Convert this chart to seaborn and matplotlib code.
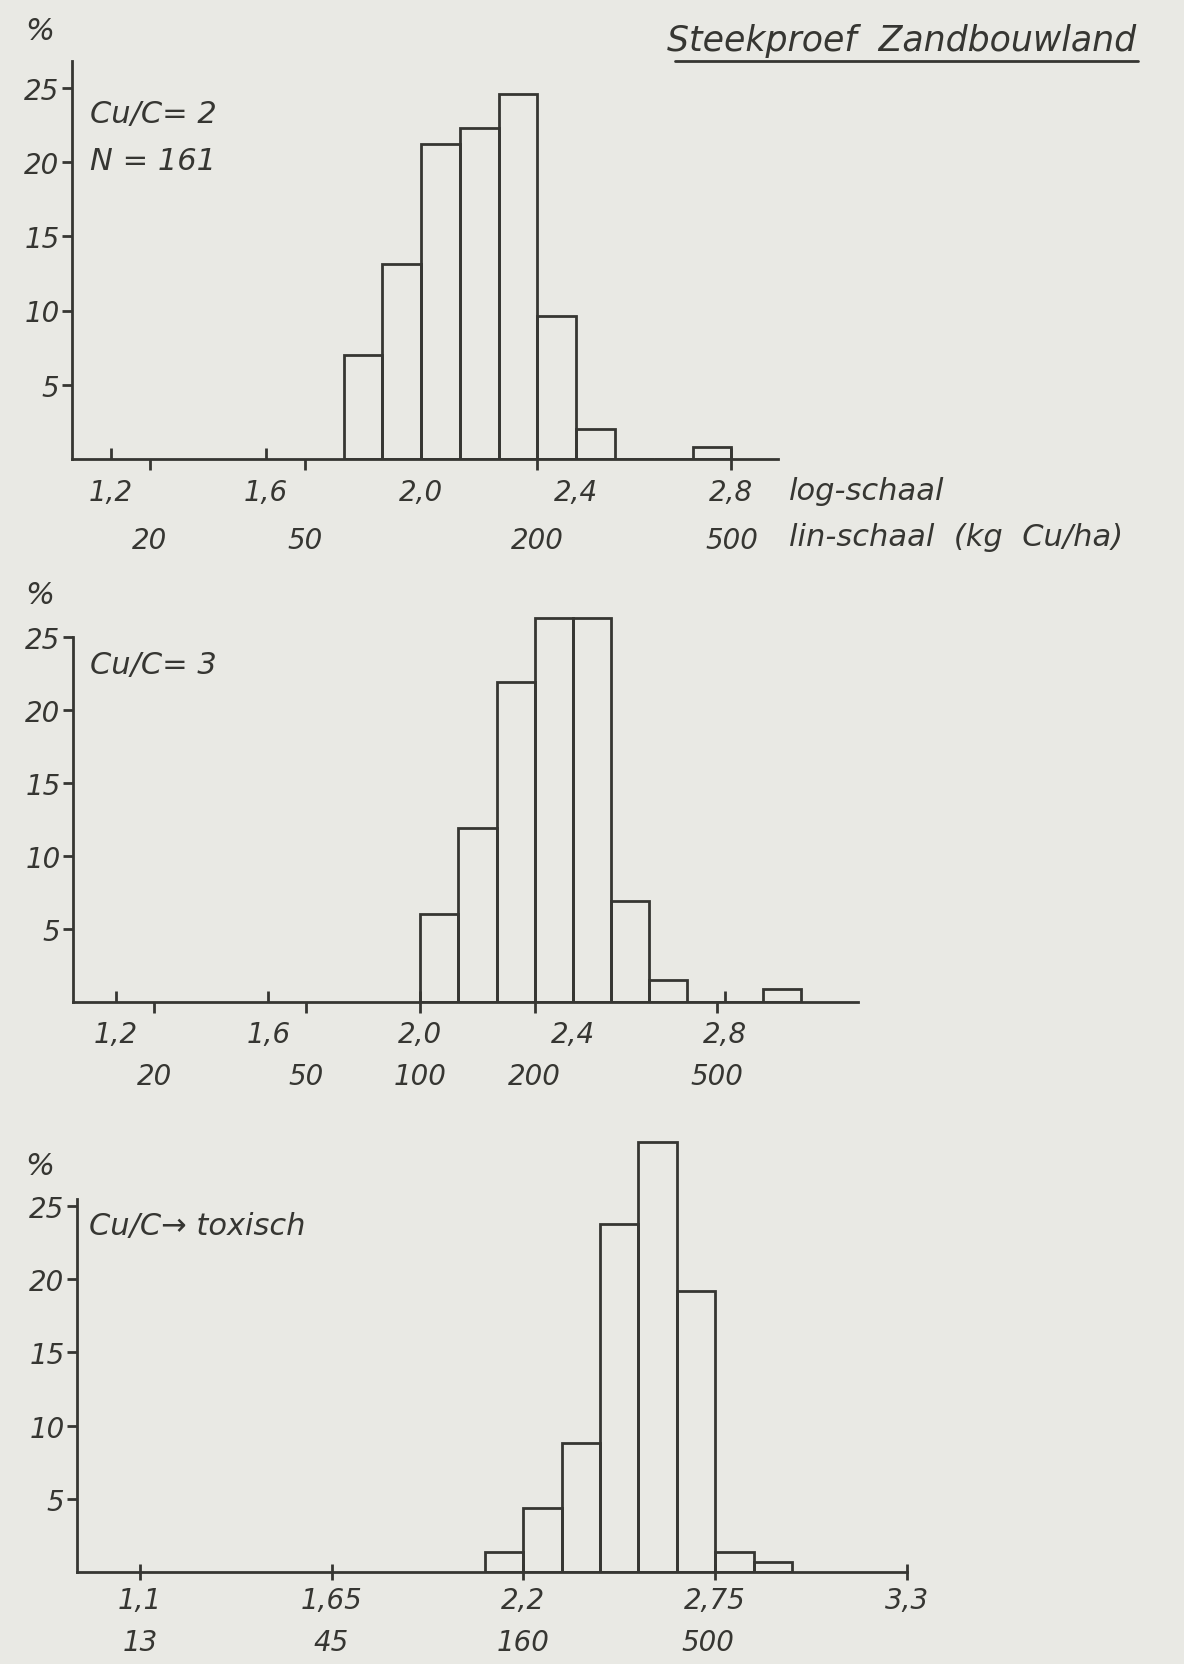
import numpy as np
import seaborn as sns
import matplotlib.pyplot as plt
from matplotlib.lines import Line2D

# ---- data: percentage of samples per class of log10(kg Cu/ha) ----
edges_c2 = [1.8, 1.9, 2.0, 2.1, 2.2, 2.3, 2.4, 2.5, 2.6, 2.7, 2.8]
pct_c2 = [7.0, 13.1, 21.2, 22.3, 24.6, 9.6, 2.0, 0.0, 0.0, 0.8]

edges_c3 = [2.0, 2.1, 2.2, 2.3, 2.4, 2.5, 2.6, 2.7, 2.8, 2.9, 3.0]
pct_c3 = [6.0, 11.9, 21.9, 26.3, 26.3, 6.9, 1.5, 0.0, 0.0, 0.9]

edges_tox = [2.09, 2.20, 2.31, 2.42, 2.53, 2.64, 2.75, 2.86, 2.97]
pct_tox = [1.4, 4.4, 8.8, 23.8, 29.4, 19.2, 1.4, 0.7]

# axis tick positions and labels
log_ticks_12 = [1.2, 1.6, 2.0, 2.4, 2.8]
log_labels_12 = ["1,2", "1,6", "2,0", "2,4", "2,8"]
lin_pos_1 = [1.30, 1.70, 2.30, 2.80]
lin_labels_1 = ["20", "50", "200", "500"]
lin_pos_2 = [1.30, 1.70, 2.00, 2.30, 2.78]
lin_labels_2 = ["20", "50", "100", "200", "500"]
log_ticks_3 = [1.1, 1.65, 2.2, 2.75, 3.3]
log_labels_3 = ["1,1", "1,65", "2,2", "2,75", "3,3"]
lin_pos_3 = [1.1, 1.65, 2.2, 2.73]
lin_labels_3 = ["13", "45", "160", "500"]
y_ticks = [5, 10, 15, 20, 25]

INK = "#363632"
PAPER = "#e9e9e4"
W, H = 1184, 1665
LW = 2.0
FS = 20      # tick labels
FS_TXT = 22  # lettering inside and beside the panels

sns.set_theme(style="white")
plt.rcParams["font.family"] = ["DejaVu Sans"]
plt.rcParams["font.style"] = "italic"
plt.rcParams["text.color"] = INK
plt.rcParams["xtick.color"] = INK
plt.rcParams["ytick.color"] = INK

fig = plt.figure(figsize=(W / 100, H / 100), dpi=100, facecolor=PAPER)


def make_axes(left_px, right_px, base_px, px_per_unit, ytop):
    top_px = base_px - ytop * px_per_unit
    ax = fig.add_axes([left_px / W, 1 - base_px / H,
                       (right_px - left_px) / W, (base_px - top_px) / H])
    ax.set_facecolor("none")
    ax.set_ylim(0, ytop)
    return ax


def draw_hist(ax, edges, pct):
    centers = [(a + b) / 2 for a, b in zip(edges[:-1], edges[1:])]
    sns.histplot(x=centers, weights=pct, bins=edges, fill=False,
                 color=INK, linewidth=LW, ax=ax)
    ax.set(xlabel="", ylabel="")


def style_axes(ax, ybound):
    for s in ["top", "right"]:
        ax.spines[s].set_visible(False)
    for s in ["left", "bottom"]:
        ax.spines[s].set_color(INK)
        ax.spines[s].set_linewidth(LW)
    ax.spines["left"].set_bounds(0, ybound)
    ax.set_yticks(y_ticks)
    ax.set_yticklabels([str(v) for v in y_ticks])
    ax.tick_params(axis="y", direction="out", length=7, width=LW,
                   pad=2, labelsize=FS, left=True)
    ax.xaxis.remove_overlapping_locs = False


# ---- panel 1: Cu/C = 2 ----
ax1 = make_axes(72, 778, 460, 14.85, 26.8)
ax1.set_xlim(1.1, 2.92)
draw_hist(ax1, edges_c2, pct_c2)
style_axes(ax1, 26.8)
ax1.set_xticks(log_ticks_12, log_labels_12)
ax1.set_xticks(lin_pos_1, lin_labels_1, minor=True)
ax1.tick_params(axis="x", which="major", direction="in", length=8,
                width=LW, pad=14, labelsize=FS, bottom=True)
ax1.tick_params(axis="x", which="minor", direction="out", length=8,
                width=LW, pad=40, labelsize=FS, bottom=True)
ax1.text(0.025, 0.868, "Cu/C= 2", transform=ax1.transAxes, fontsize=FS_TXT,
         va="center", ha="left")
ax1.text(0.025, 0.75, "N = 161", transform=ax1.transAxes, fontsize=FS_TXT,
         va="center", ha="left")

# ---- panel 2: Cu/C = 3 ----
ax2 = make_axes(73, 858, 1003, 14.6, 27)
ax2.set_xlim(1.087, 3.15)
draw_hist(ax2, edges_c3, pct_c3)
style_axes(ax2, 25)
ax2.set_xticks(log_ticks_12, log_labels_12)
ax2.set_xticks(lin_pos_2, lin_labels_2, minor=True)
ax2.tick_params(axis="x", which="major", direction="in", length=8,
                width=LW, pad=13, labelsize=FS, bottom=True)
ax2.tick_params(axis="x", which="minor", direction="out", length=8,
                width=LW, pad=35, labelsize=FS, bottom=True)
ax2.text(0.022, 0.855, "Cu/C= 3", transform=ax2.transAxes, fontsize=FS_TXT,
         va="center", ha="left")

# ---- panel 3: Cu/C -> toxisch ----
ax3 = make_axes(77, 907, 1573, 14.64, 30)
ax3.set_xlim(0.92, 3.3)
draw_hist(ax3, edges_tox, pct_tox)
style_axes(ax3, 25.5)
ax3.set_xticks(log_ticks_3, log_labels_3)
ax3.set_xticks(lin_pos_3, lin_labels_3, minor=True)
ax3.tick_params(axis="x", which="major", direction="inout", length=12,
                width=LW, pad=4, labelsize=FS, bottom=True)
ax3.tick_params(axis="x", which="minor", direction="out", length=0,
                width=0, pad=40, labelsize=FS, bottom=True)
ax3.text(0.015, 0.79, "Cu/C\u2192 toxisch", transform=ax3.transAxes,
         fontsize=FS_TXT, va="center", ha="left")

# ---- "%" markers above the y axes ----
for y_px in (32, 595, 1167):
    fig.text(40 / W, 1 - y_px / H, "%", fontsize=FS_TXT, ha="center",
             va="center")

# ---- scale captions beside the first panel ----
fig.text(789 / W, 1 - 492 / H, "log-schaal", fontsize=FS_TXT, ha="left",
         va="center")
fig.text(789 / W, 1 - 538 / H, "lin-schaal  (kg  Cu/ha)", fontsize=FS_TXT,
         ha="left", va="center")

# ---- underlined heading ----
fig.text(902 / W, 1 - 41 / H, "Steekproef  Zandbouwland", fontsize=25,
         ha="center", va="center")
fig.add_artist(Line2D([675 / W, 1138 / W], [1 - 62 / H, 1 - 62 / H],
                      transform=fig.transFigure, color=INK, linewidth=LW))

fig.savefig("out.png", dpi=100, facecolor=PAPER)
